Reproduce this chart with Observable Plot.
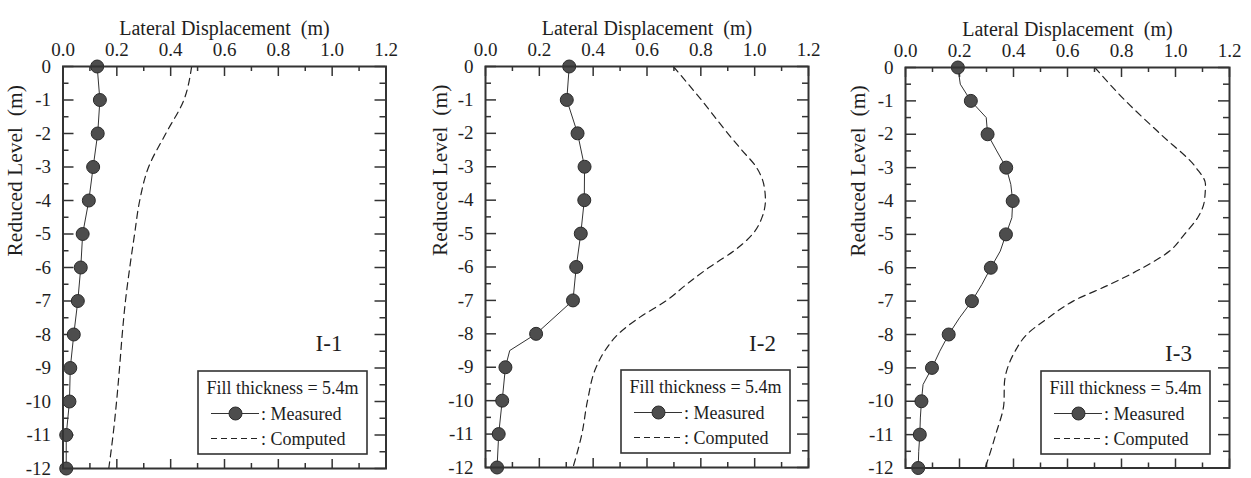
<!DOCTYPE html>
<html>
<head>
<meta charset="utf-8">
<script src="https://cdn.jsdelivr.net/npm/d3@7"></script>
<script src="https://cdn.jsdelivr.net/npm/@observablehq/plot@0.6"></script>
<style>
  html, body { margin: 0; padding: 0; background: #fff; }
  #root { position: relative; width: 1251px; height: 478px; overflow: hidden; font-family: "Liberation Serif", "Times New Roman", serif; }
  #root svg text { font-family: "Liberation Serif", "Times New Roman", serif !important; }
  .panel { position: absolute; top: 0; }
  .legend { position: absolute; }
</style>
</head>
<body>
<div id="root"></div>
<script>
// ---- axis ticks ----
const xTicks = [0, 0.2, 0.4, 0.6, 0.8, 1.0, 1.2];
const xTickLabels = ["0.0", "0.2", "0.4", "0.6", "0.8", "1.0", "1.2"];
const xMinorTicks = [0.1, 0.3, 0.5, 0.7, 0.9, 1.1];
const yTicks = [0, -1, -2, -3, -4, -5, -6, -7, -8, -9, -10, -11, -12];
const yTickLabels = ["0", "-1", "-2", "-3", "-4", "-5", "-6", "-7", "-8", "-9", "-10", "-11", "-12"];
const yMinorTicks = [-0.5, -1.5, -2.5, -3.5, -4.5, -5.5, -6.5, -7.5, -8.5, -9.5, -10.5, -11.5];

const xAxisLabel = "Lateral Displacement  (m)";
const yAxisLabel = "Reduced Level  (m)";
const legendTitle = "Fill thickness = 5.4m";
const legendMeasured = ": Measured";
const legendComputed = ": Computed";
const panelNames = ["I-1", "I-2", "I-3"];

// ---- measured points (depth = yTicks) ----
const measuredDepth = [0, -1, -2, -3, -4, -5, -6, -7, -8, -9, -10, -11, -12];
const measuredI1 = [0.127, 0.137, 0.129, 0.112, 0.096, 0.073, 0.066, 0.055, 0.040, 0.027, 0.024, 0.012, 0.012];
const measuredI2 = [0.311, 0.302, 0.342, 0.368, 0.367, 0.354, 0.337, 0.325, 0.188, 0.074, 0.062, 0.049, 0.043];
const measuredI3 = [0.194, 0.242, 0.304, 0.373, 0.397, 0.372, 0.316, 0.246, 0.160, 0.098, 0.059, 0.053, 0.047];

// ---- measured connecting lines ----
const measuredLineDepthI1 = measuredDepth;
const measuredLineI1 = measuredI1;
const measuredLineDepthI2 = [0, -1, -2, -3, -4, -5, -6, -7, -8, -8.5, -9, -10, -11, -12];
const measuredLineI2 = [0.311, 0.302, 0.342, 0.368, 0.367, 0.354, 0.337, 0.325, 0.188, 0.090, 0.074, 0.062, 0.049, 0.043];
const measuredLineDepthI3 = [0, -0.5, -1, -1.5, -2, -2.5, -3, -3.5, -4, -4.5, -5, -5.5, -6, -6.5, -7, -7.5, -8, -8.5, -9, -9.5, -10, -10.5, -11, -11.5, -12];
const measuredLineI3 = [0.194, 0.203, 0.242, 0.299, 0.304, 0.338, 0.373, 0.390, 0.397, 0.394, 0.372, 0.351, 0.316, 0.283, 0.246, 0.200, 0.160, 0.127, 0.098, 0.065, 0.059, 0.055, 0.053, 0.049, 0.047];

// ---- computed curves ----
const computedDepthI1 = [0, -1, -2, -3, -4, -5, -6, -7, -8, -9, -10, -11, -12];
const computedI1 = [0.478, 0.449, 0.382, 0.318, 0.285, 0.266, 0.248, 0.232, 0.220, 0.210, 0.199, 0.186, 0.170];
const computedDepthI2 = [0, -1, -2, -2.5, -3, -3.5, -4, -4.5, -5, -5.5, -6, -6.5, -7, -7.5, -8, -8.5, -9, -10, -11, -12];
const computedI2 = [0.698, 0.802, 0.900, 0.952, 1.005, 1.033, 1.040, 1.028, 0.994, 0.926, 0.833, 0.750, 0.673, 0.574, 0.494, 0.444, 0.411, 0.379, 0.358, 0.325];
const computedDepthI3 = [0, -1, -2, -3, -3.5, -4, -4.5, -5, -5.5, -6, -6.5, -7, -7.5, -8, -8.5, -9, -9.5, -10, -11, -12];
const computedI3 = [0.701, 0.815, 0.945, 1.076, 1.111, 1.107, 1.082, 1.033, 0.978, 0.879, 0.757, 0.621, 0.529, 0.449, 0.406, 0.378, 0.366, 0.365, 0.334, 0.295];

const xLabelMap = new Map(xTicks.map((t, i) => [t, xTickLabels[i]]));
const yLabelMap = new Map(yTicks.map((t, i) => [t, yTickLabels[i]]));

const ink = "#1e1e1e";
const FONT = "Liberation Serif, Times New Roman, serif";

const layouts = [
  { left: 0,   width: 418, ml: 62.5, mr: 32.5, mt: 66, mb: 10, ylab: -47.5, nameDx: -57, nameDy: 268, leg: [196.5, 369.5] },
  { left: 420, width: 418, ml: 65,   mr: 30,   mt: 66, mb: 11, ylab: -45,   nameDx: -46, nameDy: 268, leg: [199.5, 368.5] },
  { left: 840, width: 411, ml: 65,   mr: 22,   mt: 67, mb: 10.5, ylab: -47, nameDx: -51, nameDy: 277, leg: [200, 370] }
];

const series = [
  { pts: measuredI1, line: [measuredLineDepthI1, measuredLineI1], comp: [computedDepthI1, computedI1] },
  { pts: measuredI2, line: [measuredLineDepthI2, measuredLineI2], comp: [computedDepthI2, computedI2] },
  { pts: measuredI3, line: [measuredLineDepthI3, measuredLineI3], comp: [computedDepthI3, computedI3] }
];

const root = document.getElementById("root");
const H = 478;

layouts.forEach((L, k) => {
  const S = series[k];
  const fw = L.width - L.ml - L.mr;
  const fh = H - L.mt - L.mb;
  const pts = measuredDepth.map((d, i) => ({ depth: d, x: S.pts[i] }));
  const line = S.line[0].map((d, i) => ({ depth: d, x: S.line[1][i] }));
  const comp = S.comp[0].map((d, i) => ({ depth: d, x: S.comp[1][i] }));
  const tickStyle = { stroke: "#333", strokeWidth: 1.5 };

  const plot = Plot.plot({
    width: L.width,
    height: H,
    marginLeft: L.ml, marginRight: L.mr, marginTop: L.mt, marginBottom: L.mb,
    style: { fontFamily: FONT, fontSize: "19px", color: ink, background: "transparent" },
    x: { domain: [0, 1.2] },
    y: { domain: [-12, 0] },
    marks: [
      // inward ticks
      Plot.tickX(xTicks, { x: d => d, insetBottom: fh - 10, ...tickStyle }),
      Plot.tickX(xMinorTicks, { x: d => d, insetBottom: fh - 5, ...tickStyle }),
      Plot.tickX(xTicks, { x: d => d, insetTop: fh - 9, ...tickStyle }),
      Plot.tickX(xMinorTicks, { x: d => d, insetTop: fh - 5, ...tickStyle }),
      Plot.tickY(yTicks, { y: d => d, insetRight: fw - 11, ...tickStyle }),
      Plot.tickY(yMinorTicks, { y: d => d, insetRight: fw - 6, ...tickStyle }),
      Plot.tickY(yTicks, { y: d => d, insetLeft: fw - 11, ...tickStyle }),
      Plot.tickY(yMinorTicks, { y: d => d, insetLeft: fw - 6, ...tickStyle }),
      Plot.axisX({ anchor: "top", ticks: xTicks, tickFormat: d => xLabelMap.get(d), tickSize: 0, tickPadding: 11, label: null, fill: ink, fontSize: 19 }),
      Plot.axisY({ anchor: "left", ticks: yTicks, tickFormat: d => yLabelMap.get(d), tickSize: 0, tickPadding: 12, label: null, fill: ink, fontSize: 19 }),
      Plot.text([xAxisLabel], { frameAnchor: "top", dy: -46, fontSize: 20, fill: ink }),
      Plot.text([yAxisLabel], { frameAnchor: "left", dx: L.ylab, dy: -11, rotate: -90, fontSize: 21.5, fill: ink }),
      Plot.text([panelNames[k]], { frameAnchor: "top-right", dx: L.nameDx, dy: L.nameDy, textAnchor: "middle", fontSize: 23, fill: ink }),
      // computed
      Plot.line(comp, { x: "x", y: "depth", curve: "monotone-y", stroke: "#222", strokeWidth: 1.2, strokeDasharray: "7,5" }),
      // measured
      Plot.line(line, { x: "x", y: "depth", stroke: "#333", strokeWidth: 1 }),
      Plot.dot(pts, { x: "x", y: "depth", r: 6.5, fill: "#4d4d4d", stroke: "#2a2a2a", strokeWidth: 1 }),
      Plot.frame({ stroke: "#333", strokeWidth: 2 })
    ]
  });

  const div = document.createElement("div");
  div.className = "panel";
  div.style.left = L.left + "px";
  div.appendChild(plot);

  // legend
  const legW = 171, legH = 85;
  const ns = "http://www.w3.org/2000/svg";
  const lg = document.createElementNS(ns, "svg");
  lg.setAttribute("width", legW);
  lg.setAttribute("height", legH);
  lg.setAttribute("class", "legend");
  lg.style.left = L.leg[0] + "px";
  lg.style.top = L.leg[1] + "px";
  lg.innerHTML = `
    <rect x="1" y="1" width="${legW - 2}" height="${legH - 2}" fill="white" stroke="#333" stroke-width="1.6"/>
    <text x="${legW / 2}" y="24" text-anchor="middle" font-size="18" fill="${ink}">${legendTitle}</text>
    <line x1="14" x2="62" y1="43.5" y2="43.5" stroke="#333" stroke-width="1"/>
    <circle cx="38.5" cy="43.5" r="6.5" fill="#4d4d4d" stroke="#2a2a2a" stroke-width="1"/>
    <text x="64" y="49.5" font-size="18" fill="${ink}">${legendMeasured}</text>
    <line x1="14" x2="64" y1="68.5" y2="68.5" stroke="#222" stroke-width="1.2" stroke-dasharray="6,4"/>
    <text x="64" y="74.5" font-size="18" fill="${ink}">${legendComputed}</text>
  `;
  div.appendChild(lg);
  root.appendChild(div);
});
</script>
</body>
</html>
